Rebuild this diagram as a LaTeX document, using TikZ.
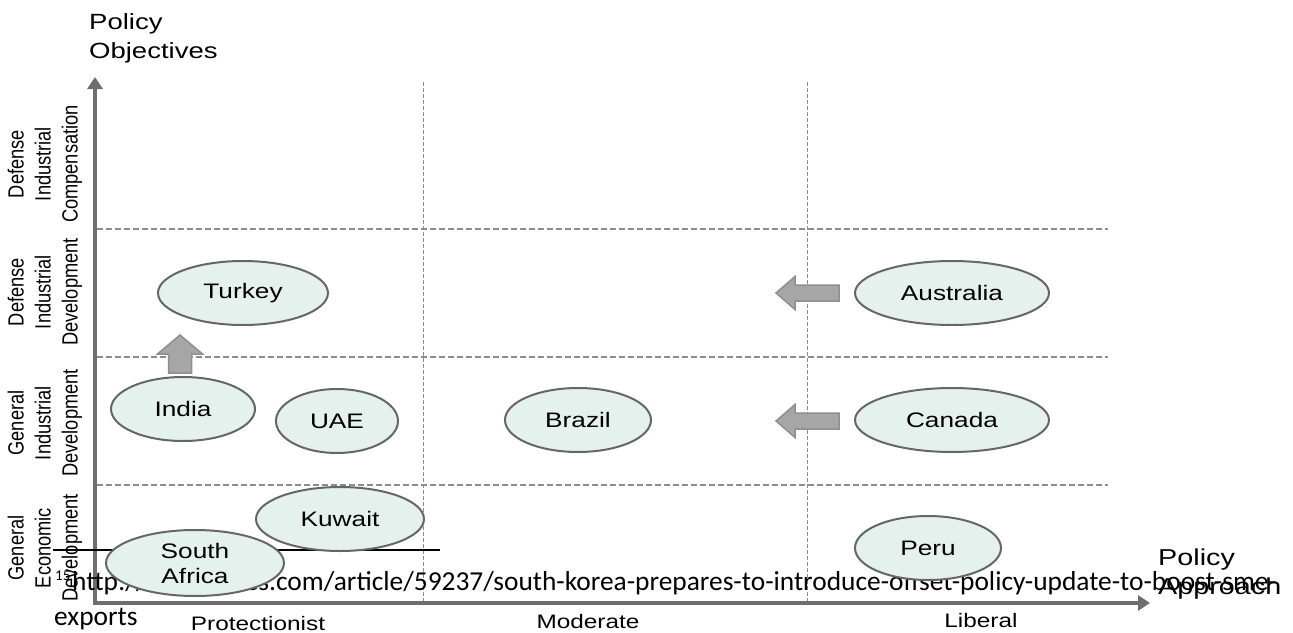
\documentclass[tikz,border=0pt]{standalone}
\usepackage{fontspec}
\setmainfont{Liberation Sans}
\newfontfamily\widefont{Liberation Sans}[FakeStretch=1.25]
\newfontfamily\narrowfont{Liberation Sans}[FakeStretch=0.83]
\newfontfamily\notefont{Carlito}
\usetikzlibrary{arrows.meta,shapes.geometric}

\definecolor{axisgray}{HTML}{6E6E6E}
\definecolor{gridgray}{HTML}{8C8C8C}
\definecolor{bubblefill}{HTML}{E5F1EC}
\definecolor{bubblerim}{HTML}{666666}
\definecolor{shiftfill}{HTML}{A6A6A6}
\definecolor{shiftrim}{HTML}{8F8F8F}

\begin{document}
\begin{tikzpicture}[x=1pt, y=-1pt,
	axis/.style={axisgray, line width=4.5pt},
	rowline/.style={gridgray, line width=1.3pt, dash pattern=on 6pt off 3pt},
	colline/.style={gridgray, line width=0.9pt, dash pattern=on 4pt off 2pt},
	country/.style={ellipse, draw=bubblerim, fill=bubblefill, line width=2pt, inner sep=0pt,
		font=\widefont\fontsize{21}{25}\selectfont, align=center},
	shiftarrow/.style={draw=shiftrim, fill=shiftfill, line width=1.5pt},
	rowlabel/.style={rotate=90, align=center, inner sep=0pt,
		font=\narrowfont\fontsize{22}{27}\selectfont},
	approach/.style={anchor=base, inner sep=0pt, font=\widefont\fontsize{19.5}{24}\selectfont}]
	\useasboundingbox (0, 0) rectangle (1293, 632);
%%%%%%%%%%% grid
	\draw[rowline] (97, 229) -- (1108, 229);
	\draw[rowline] (97, 357) -- (1108, 357);
	\draw[rowline] (97, 485) -- (1108, 485);
	\draw[colline] (423, 82) -- (423, 601);
	\draw[colline] (807, 82) -- (807, 601);
%%%%%%%%%%% axes
	\draw[axis, {Triangle[width=15pt, length=12pt]}-{Triangle[width=15pt, length=12pt]}]
		(95, 77) -- (95, 603) -- (1150, 603);
	\node[anchor=west, inner sep=0pt, align=left, font=\widefont\fontsize{22}{29}\selectfont]
		(objtitle) at (89, 38) {Policy\\Objectives};
	\node[anchor=west, inner sep=0pt, align=left, font=\widefont\fontsize{23}{29}\selectfont]
		(apptitle) at (1158, 574) {Policy\\Approach};
%%%%%%%%%%% footnote
	\node[anchor=base west, inner sep=0pt, font=\notefont\fontsize{27.4}{32}\selectfont]
		(noteurl) at (72, 590) {http://www.janes.com/article/59237/south-korea-prepares-to-introduce-offset-policy-update-to-boost-sme-};
	\node[anchor=base west, inner sep=0pt, font=\notefont\fontsize{15}{17}\selectfont]
		(notemark) at (55, 580) {15};
	\node[anchor=base west, inner sep=0pt, font=\notefont\fontsize{27.4}{32}\selectfont]
		(notewrap) at (54, 625) {exports};
	\draw[black, line width=1.5pt] (53, 550) -- (440, 550);
%%%%%%%%%%% countries
	\node[country, minimum width=170, minimum height=64] (turkey) at (243, 293) {Turkey};
	\node[country, minimum width=144, minimum height=64] (india) at (183, 409) {India};
	\node[country, minimum width=122, minimum height=64] (uae) at (337, 421) {UAE};
	\node[country, minimum width=168, minimum height=64] (kuwait) at (340, 519) {Kuwait};
	\node[country, minimum width=178, minimum height=66] (safrica) at (195, 563) {South\\Africa};
	\node[country, minimum width=146, minimum height=64] (brazil) at (578, 420) {Brazil};
	\node[country, minimum width=194, minimum height=64] (australia) at (952, 293) {Australia};
	\node[country, minimum width=194, minimum height=64] (canada) at (952, 420) {Canada};
	\node[country, minimum width=146, minimum height=64] (peru) at (928, 548) {Peru};
%%%%%%%%%%% shifts
	\draw[shiftarrow] (180, 335) -- +(-22.5, 19) -- +(-11.5, 19) -- +(-11.5, 38) -- +(11.5, 38) -- +(11.5, 19) -- +(22.5, 19) -- cycle;
	\draw[shiftarrow] (776, 293) -- +(19, -16.5) -- +(19, -8) -- +(63, -8) -- +(63, 8) -- +(19, 8) -- +(19, 16.5) -- cycle;
	\draw[shiftarrow] (776, 421) -- +(19, -16.5) -- +(19, -8) -- +(63, -8) -- +(63, 8) -- +(19, 8) -- +(19, 16.5) -- cycle;
%%%%%%%%%%% row labels
	\node[rowlabel] (rowcomp) at (45, 164) {Defense\\Industrial\\Compensation};
	\node[rowlabel] (rowdefdev) at (45, 292) {Defense\\Industrial\\Development};
	\node[rowlabel] (rowgendev) at (45, 423) {General\\Industrial\\Development};
	\node[rowlabel] (rowecodev) at (45, 548) {General\\Economic\\Development};
%%%%%%%%%%% column labels
	\node[approach] (protect) at (258, 630) {Protectionist};
	\node[approach] (moderate) at (588, 628) {Moderate};
	\node[approach] (liberal) at (981, 627) {Liberal};
\end{tikzpicture}
\end{document}
